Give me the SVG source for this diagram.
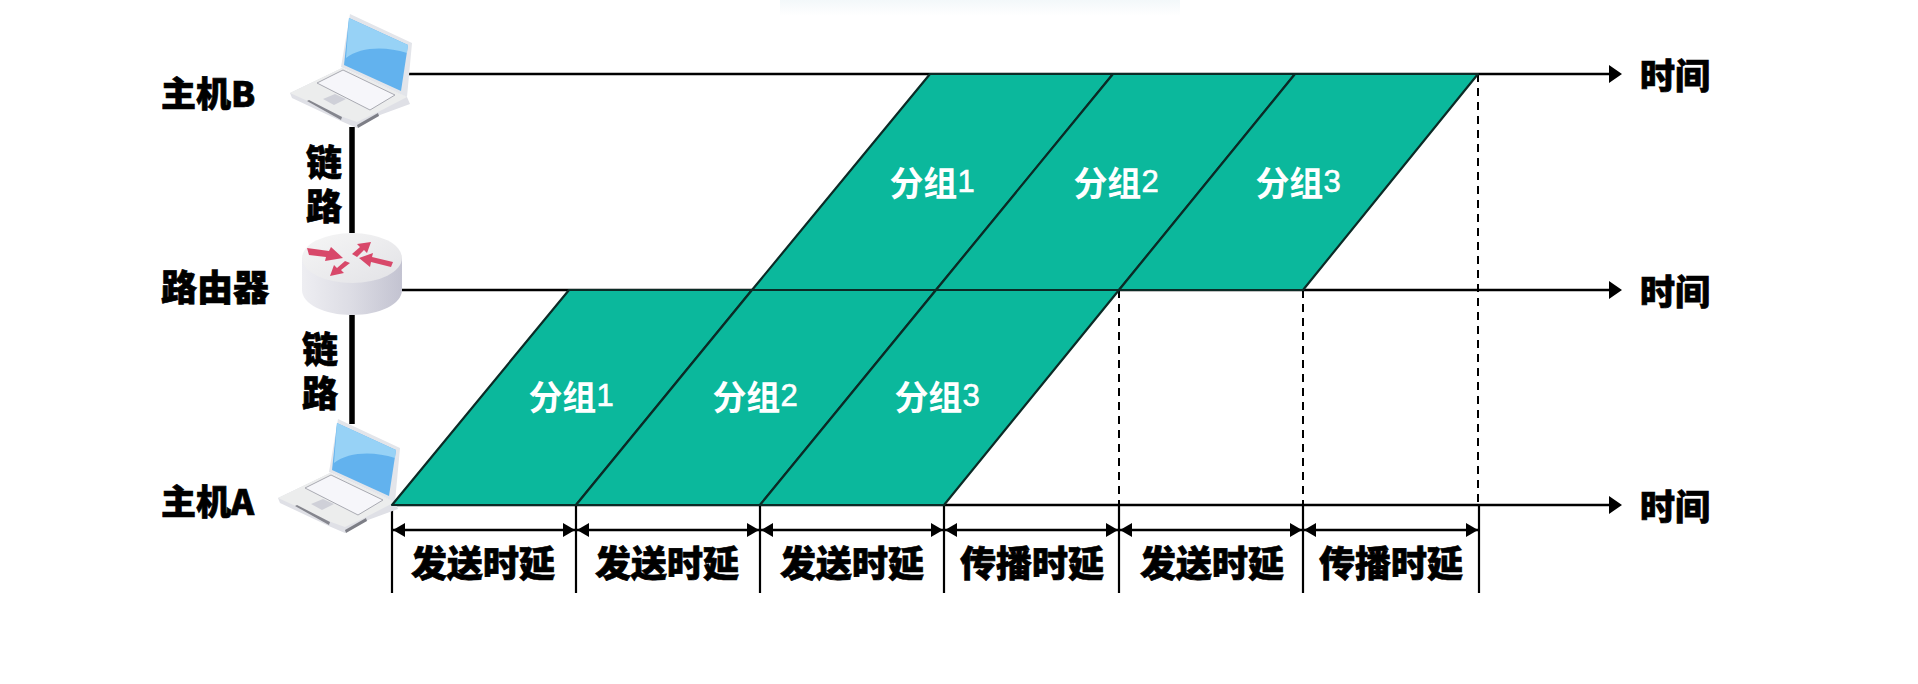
<svg xmlns="http://www.w3.org/2000/svg" width="1918" height="684" viewBox="0 0 1918 684">
<style>
.t{font-family:"Noto Sans CJK SC","Liberation Sans",sans-serif;font-weight:900;fill:#000;stroke:#000;stroke-width:.7}
.l{font-size:35px;dominant-baseline:central}
.d{font-size:36px;text-anchor:middle;dominant-baseline:central}
.w{font-family:"Noto Sans CJK SC","Liberation Sans",sans-serif;font-weight:700;font-size:34px;fill:#fff;text-anchor:middle;dominant-baseline:central}
.w tspan{font-family:"Liberation Sans",sans-serif;font-weight:400;font-size:31px;stroke:#fff;stroke-width:.6}
.p{fill:#0bb89c;stroke:#0b2b26;stroke-width:2.2;stroke-linejoin:round}
.a{fill:none;stroke:#000;stroke-width:2.6}
.da{fill:none;stroke:#000;stroke-width:2;stroke-dasharray:8 6}
.v{fill:none;stroke:#000;stroke-width:2.2}
.dim{fill:none;stroke:#000;stroke-width:2.6;marker-start:url(#hs);marker-end:url(#he)}
.ra{fill:#d8486a}
</style>
<defs>
<marker id="he" markerUnits="userSpaceOnUse" markerWidth="13" markerHeight="14" refX="12" refY="7" orient="auto"><path d="M0 0L12 7L0 14z" fill="#000"/></marker>
<marker id="hs" markerUnits="userSpaceOnUse" markerWidth="13" markerHeight="14" refX="0" refY="7" orient="auto"><path d="M12 0L0 7L12 14z" fill="#000"/></marker>
<linearGradient id="body" x1="0" x2="1" y1="0" y2="0"><stop offset="0" stop-color="#eeeef2"/><stop offset=".5" stop-color="#dcdce4"/><stop offset="1" stop-color="#c3c3d1"/></linearGradient>
<linearGradient id="top" x1="0" x2="1" y1="0" y2="1"><stop offset="0" stop-color="#f6f6f6"/><stop offset="1" stop-color="#e2e2e6"/></linearGradient>
<linearGradient id="fade" x1="0" x2="0" y1="0" y2="1"><stop offset="0" stop-color="#f3f8fa"/><stop offset="1" stop-color="#fff"/></linearGradient>
<g id="laptop">
<path d="M290 93L342 68L407 97L410 104L380 115L357 128L343 122L292 98z" fill="#dfe0e6"/>
<path d="M290 93L342 68L407 97L380 111L357 122L343 117z" fill="#eceded"/>
<path d="M350 14L412 43L407 97L341 67z" fill="#e3e5ea"/>
<path d="M349 18L408 45L401 91L344 65z" fill="#62b2ee"/>
<path d="M349 18L408 45L407 53C385 46 360 47 346 58z" fill="#97d2f6"/>
<path d="M317 83L343 70L395 95L370 110z" fill="#f6f6fa" stroke="#a9aab2" stroke-width="1"/>
<path d="M307 101L309 100L342 117L341 120z" fill="#85868e"/>
<path d="M323 99L335 94L346 99L334 105z" fill="#cfd0d8"/>
<path d="M357 125L378 113L379 116L358 128z" fill="#7d7e86"/>
</g>
</defs>
<rect x="780" y="0" width="400" height="16" fill="url(#fade)"/>
<g id="connectors">
<path class="a" d="M408 74H1610"/>
<path class="a" d="M402 290H1610"/>
<path class="a" d="M392 505H1610"/>
<path d="M1609 65L1622 74L1609 83zM1609 281L1622 290L1609 299zM1609 496L1622 505L1609 514z" fill="#000"/>
<path d="M352 127V233M352 315V424" fill="none" stroke="#000" stroke-width="5.5"/>
<path class="da" d="M1119 290V505M1303 290V505M1478 74V505"/>
<path class="v" d="M392 505V593M576 505V593M760 505V593M944 505V593M1119 505V593M1303 505V593M1479 505V593"/>
<path class="dim" d="M393 530H575"/>
<path class="dim" d="M577 530H759"/>
<path class="dim" d="M761 530H943"/>
<path class="dim" d="M945 530H1118"/>
<path class="dim" d="M1120 530H1302"/>
<path class="dim" d="M1304 530H1478"/>
</g>
<g id="hostB"><use href="#laptop"/><text class="t l" x="161" y="91">主机B</text></g>
<g id="hostA"><use href="#laptop" transform="translate(-12 405)"/><text class="t l" x="161" y="499">主机A</text></g>
<g id="router">
<path d="M302 258V290C302 304 324 315 352 315S402 304 402 290V258z" fill="url(#body)"/>
<ellipse cx="352" cy="258" rx="50" ry="25" fill="url(#top)"/>
<path class="ra" d="M307 248L329 251L331 247L343 258L325 261L326 257L309 255z"/>
<path class="ra" d="M352 254L360 247L357 244L371 242L367 253L364 250L357 257z"/>
<path class="ra" d="M393 262L372 257L373 253L359 258L370 267L371 262L391 267z"/>
<path class="ra" d="M350 263L341 270L344 273L330 276L334 265L337 268L345 261z"/>
<text class="t l" x="161" y="285" style="font-size:36px">路由器</text>
</g>
<g id="packets-sender">
<path class="p" d="M392 505L569 290H752L576 505z"/>
<path class="p" d="M576 505L752 290H936L760 505z"/>
<path class="p" d="M760 505L936 290H1119L944 505z"/>
</g>
<g id="packets-router">
<path class="p" d="M752 290L930 74H1113L936 290z"/>
<path class="p" d="M936 290L1113 74H1295L1119 290z"/>
<path class="p" d="M1119 290L1295 74H1478L1303 290z"/>
</g>
<g id="packet-labels">
<text class="w" x="571" y="395">分组<tspan>1</tspan></text>
<text class="w" x="755" y="395">分组<tspan>2</tspan></text>
<text class="w" x="937" y="395">分组<tspan>3</tspan></text>
<text class="w" x="932" y="181">分组<tspan>1</tspan></text>
<text class="w" x="1116" y="181">分组<tspan>2</tspan></text>
<text class="w" x="1298" y="181">分组<tspan>3</tspan></text>
</g>
<g id="link-labels">
<text class="t d"><tspan x="324" y="160">链</tspan><tspan x="324" y="204">路</tspan></text>
<text class="t d"><tspan x="320" y="347">链</tspan><tspan x="320" y="391">路</tspan></text>
</g>
<g id="time-labels">
<text class="t l" x="1640" y="73">时间</text>
<text class="t l" x="1640" y="289">时间</text>
<text class="t l" x="1640" y="504">时间</text>
</g>
<g id="delay-labels">
<text class="t d" x="483" y="561">发送时延</text>
<text class="t d" x="667" y="561">发送时延</text>
<text class="t d" x="852" y="561">发送时延</text>
<text class="t d" x="1032" y="561">传播时延</text>
<text class="t d" x="1212" y="561">发送时延</text>
<text class="t d" x="1391" y="561">传播时延</text>
</g>
</svg>
